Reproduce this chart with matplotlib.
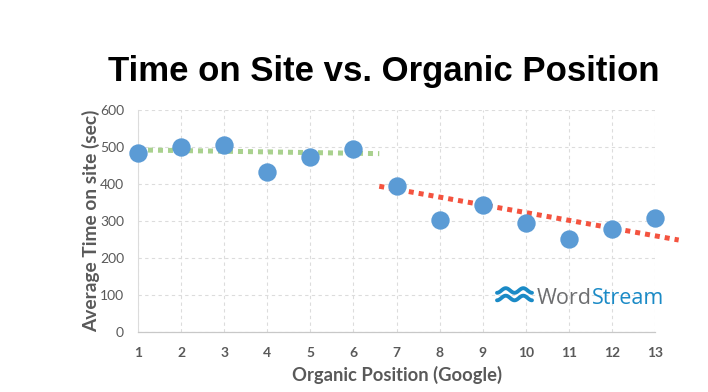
import numpy as np
import matplotlib
matplotlib.use("Agg")
import matplotlib.pyplot as plt
from matplotlib.lines import Line2D

# ---- data ----
positions = [1, 2, 3, 4, 5, 6, 7, 8, 9, 10, 11, 12, 13]
time_on_site = [482, 500, 503, 431, 472, 494, 394, 301, 342, 294, 250, 277, 307]
green_trend_x = [1, 6.6]
green_trend_y = [491, 481]
red_trend_x = [6.6, 13.55]
red_trend_y = [393, 248]
y_ticks = [0, 100, 200, 300, 400, 500, 600]

W, H = 708, 392
fig = plt.figure(figsize=(W / 100, H / 100), dpi=100)
fig.patch.set_facecolor("white")

left, right, bottom, top = 138, 655, 332, 109.5
ax = fig.add_axes([left / W, 1 - bottom / H, (right - left) / W, (bottom - top) / H])
ax.set_xlim(1, 13)
ax.set_ylim(0, 600)

grid_c = "#DCDCDC"
ax.set_xticks(positions)
ax.set_yticks(y_ticks)
ax.grid(True, color=grid_c, linestyle=(0, (3, 3)), linewidth=0.8)
ax.set_axisbelow(True)
for s in ["top", "right"]:
    ax.spines[s].set_visible(False)
ax.spines["left"].set_color(grid_c)
ax.spines["bottom"].set_color("#C8C8C8")
ax.spines["left"].set_linewidth(0.8)
ax.spines["bottom"].set_linewidth(0.9)

tick_c = "#595959"
ax.tick_params(axis="both", length=0, colors=tick_c)
ax.tick_params(axis="x", pad=11)
ax.tick_params(axis="y", pad=10)
for lab in ax.get_xticklabels() + ax.get_yticklabels():
    lab.set_fontfamily("Lato")
    lab.set_fontsize(10)
for lab in ax.get_xticklabels():
    lab.set_fontweight("bold")

ax.plot(green_trend_x, green_trend_y, color="#A9D18E", linewidth=3.6,
        linestyle=(0, (1, 1)), dash_capstyle="butt", clip_on=False, zorder=2)
ax.plot(red_trend_x, red_trend_y, color="#F4533F", linewidth=3.6,
        linestyle=(0, (1, 1)), dash_capstyle="butt", clip_on=False, zorder=2)
ax.scatter(positions, time_on_site, s=175, color="#5B9BD5", zorder=3,
           clip_on=False, linewidths=0)

ax.set_xlabel("Organic Position (Google)", fontfamily="Lato", fontweight="bold",
              fontsize=13.2, color=tick_c, labelpad=5)
ax.set_ylabel("Average Time on site (sec)", fontfamily="Lato", fontweight="bold",
              fontsize=13.8, color=tick_c, labelpad=0)

fig.text(383.5 / W, 1 - 71 / H, "Time on Site vs. Organic Position",
         fontfamily="Liberation Sans", fontweight="bold", fontsize=25,
         ha="center", va="center", color="black")

# ---- WordStream logo ----
logo_blue = "#1A8AC6"
wx0, wx1 = 497, 532
t = np.linspace(0, 1, 60)
for yc in [290.5, 298]:
    xs = wx0 + (wx1 - wx0) * t
    ys = yc + 2.3 * np.sin(2 * np.pi * 2 * t + np.pi / 2)
    fig.add_artist(Line2D(xs / W, 1 - ys / H, color=logo_blue, linewidth=2.8,
                          solid_capstyle="round"))
tw = fig.text(537 / W, 1 - 298 / H, "Word", fontfamily="Open Sans", fontsize=15.5,
              color="#6D6E70", ha="left", va="center")
fig.canvas.draw()
bb = tw.get_window_extent()
fig.text(bb.x1 / W, 1 - 298 / H, "Stream", fontfamily="Open Sans", fontsize=15.5,
         color=logo_blue, ha="left", va="center")

fig.savefig("out.png", dpi=100, facecolor="white")
